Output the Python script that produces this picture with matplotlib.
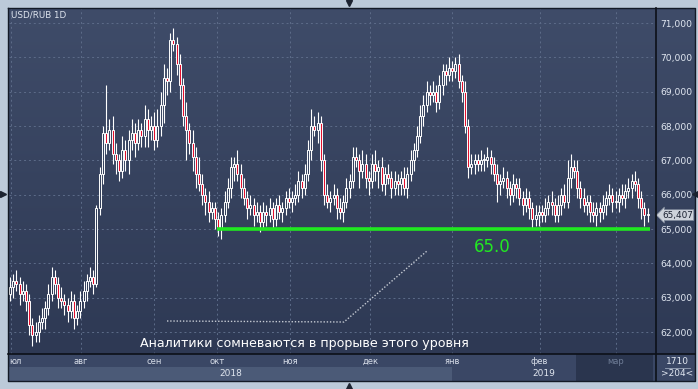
import numpy as np
import matplotlib.pyplot as plt
from matplotlib.colors import LinearSegmentedColormap
from matplotlib.patches import Rectangle
from matplotlib.transforms import blended_transform_factory

# daily closes, USD/RUB, early July 2018 .. mid March 2019 (trading-day index)
open0 = 63.1
close = [
    63.3, 63.5, 63.4, 63.1, 63.2, 62.9, 62.2,
    61.9, 62.0, 62.3, 62.4, 62.7, 63.1,
    63.6, 63.4, 63.0, 62.9, 62.8, 62.6,
    62.9, 62.4, 62.6, 62.9,
    63.2, 63.5, 63.6, 63.4, 65.6,
    66.6, 67.8, 67.5, 67.9, 67.2, 67.0, 66.7, 67.3, 67.0, 67.6,
    67.8, 67.5, 67.9, 67.7, 68.2, 67.9, 68.0, 67.6, 68.0, 68.6,
    69.4, 69.3, 70.5, 70.4, 69.8, 69.2, 68.3, 67.9, 67.5, 67.1,
    66.6, 66.3, 66.0, 65.8, 65.5, 65.6, 65.3, 65.0, 65.4, 65.8,
    66.2, 66.8, 66.9, 66.6, 66.2, 65.9, 65.6, 65.7, 65.4, 65.5,
    65.2, 65.5, 65.4, 65.6, 65.3, 65.7, 65.5, 65.6, 65.9, 65.8,
    65.9, 66.0, 66.4, 66.2, 66.6, 67.3, 68.0, 67.9, 68.1, 67.0,
    66.0, 65.8, 65.9, 66.0, 65.6, 65.5, 65.8, 66.2, 66.4, 67.1,
    67.0, 66.7, 66.9, 66.5, 66.4, 66.9, 66.7, 66.8, 66.3, 66.6,
    66.5, 66.2, 66.4, 66.3, 66.5, 66.2, 66.6, 67.0, 67.3, 67.7,
    68.3, 68.6, 69.0, 68.9, 69.0, 68.7, 69.2, 69.6, 69.5, 69.7,
    69.6, 69.8, 69.3, 69.0, 68.0, 66.8, 66.9, 67.0, 66.9, 67.0,
    67.0, 67.1, 66.9, 66.6, 66.3, 66.4, 66.5, 66.2, 66.0, 66.3,
    66.2, 65.9, 65.7, 65.9, 65.6, 65.3, 65.4, 65.5, 65.4, 65.6,
    65.8, 65.7, 65.4, 65.7, 66.0, 65.8, 66.5, 66.8, 66.7, 66.2,
    65.9, 65.7, 65.8, 65.5, 65.4, 65.6, 65.5, 65.7, 65.9, 66.0,
    65.8, 65.8, 66.0, 65.9, 66.1, 66.2, 66.4, 66.3, 65.9, 65.6,
    65.4, 65.4,
]
# wick lengths above / below the body
up_wick = [
    0.3, 0.2, 0.3, 0.2, 0.3, 0.2, 0.2,
    0.2, 0.3, 0.2, 0.3, 0.2, 0.3,
    0.3, 0.2, 0.2, 0.3, 0.2, 0.2,
    0.3, 0.2, 0.2, 0.3,
    0.3, 0.2, 0.3, 0.2, 0.1,
    0.2, 0.2, 1.4, 0.3, 0.4, 0.3, 0.2, 0.4, 0.3, 0.3,
    0.4, 0.3, 0.3, 0.2, 0.4, 0.3, 0.3, 0.4, 0.5, 0.4,
    0.4, 0.3, 0.2, 0.35, 0.2, 0.3, 0.2, 0.4, 0.2, 0.4,
    0.3, 0.5, 0.3, 0.2, 0.3, 0.2, 0.2, 0.2, 0.2, 0.3,
    0.3, 0.3, 0.2, 0.4, 0.3, 0.3, 0.2, 0.3, 0.2, 0.3,
    0.2, 0.3, 0.2, 0.3, 0.2, 0.2, 0.3, 0.2, 0.2, 0.3,
    0.2, 0.3, 0.3, 0.2, 0.3, 0.3, 0.5, 0.3, 0.3, 0.2,
    0.2, 0.3, 0.2, 0.3, 0.2, 0.3, 0.2, 0.3, 0.2, 0.3,
    0.3, 0.2, 0.4, 0.3, 0.2, 0.3, 0.4, 0.2, 0.3, 0.2,
    0.3, 0.2, 0.3, 0.2, 0.2, 0.3, 0.2, 0.3, 0.2, 0.3,
    0.3, 0.3, 0.3, 0.2, 0.3, 0.2, 0.3, 0.2, 0.2, 0.3,
    0.2, 0.2, 0.3, 0.2, 0.3, 0.2, 0.3, 0.2, 0.2, 0.3,
    0.2, 0.3, 0.2, 0.2, 0.3, 0.2, 0.3, 0.2, 0.2, 0.3,
    0.2, 0.3, 0.2, 0.3, 0.2, 0.2, 0.3, 0.2, 0.2, 0.3,
    0.2, 0.3, 0.2, 0.3, 0.2, 0.3, 0.5, 0.4, 0.2, 0.3,
    0.2, 0.3, 0.2, 0.2, 0.3, 0.2, 0.2, 0.3, 0.2, 0.3,
    0.2, 0.3, 0.2, 0.3, 0.2, 0.3, 0.2, 0.3, 0.2, 0.2,
    0.2, 0.2,
]
dn_wick = [
    0.2, 0.3, 0.2, 0.3, 0.2, 0.3, 0.3,
    0.3, 0.2, 0.3, 0.2, 0.3, 0.2,
    0.2, 0.3, 0.3, 0.2, 0.3, 0.3,
    0.2, 0.3, 0.2, 0.2,
    0.2, 0.3, 0.2, 0.3, 0.1,
    0.2, 0.3, 0.3, 0.2, 0.3, 0.4, 0.3, 0.2, 0.3, 0.4,
    0.3, 0.4, 0.2, 0.3, 0.3, 0.5, 0.3, 0.3, 0.2, 0.3,
    0.5, 0.4, 0.3, 0.2, 0.3, 0.4, 0.3, 0.9, 0.3, 0.4,
    0.4, 0.2, 0.3, 0.4, 0.3, 0.2, 0.3, 0.2, 0.3, 0.2,
    0.2, 0.3, 0.4, 0.2, 0.3, 0.2, 0.3, 0.2, 0.3, 0.2,
    0.3, 0.2, 0.3, 0.2, 0.3, 0.2, 0.2, 0.3, 0.2, 0.2,
    0.3, 0.2, 0.2, 0.3, 0.2, 0.2, 0.3, 0.2, 0.4, 0.3,
    0.3, 0.2, 0.3, 0.2, 0.3, 0.2, 0.3, 0.2, 0.3, 0.2,
    0.2, 0.5, 0.2, 0.3, 0.4, 0.2, 0.3, 0.5, 0.2, 0.3,
    0.2, 0.3, 0.2, 0.3, 0.3, 0.2, 0.3, 0.2, 0.3, 0.2,
    0.2, 0.3, 0.2, 0.3, 0.2, 0.3, 0.2, 0.3, 0.3, 0.2,
    0.3, 0.2, 0.2, 0.3, 0.2, 0.3, 0.2, 0.3, 0.2, 0.2,
    0.3, 0.2, 0.3, 0.2, 0.5, 0.3, 0.2, 0.3, 0.3, 0.2,
    0.3, 0.2, 0.3, 0.2, 0.3, 0.3, 0.2, 0.3, 0.2, 0.2,
    0.2, 0.3, 0.2, 0.2, 0.3, 0.2, 0.2, 0.3, 0.2, 0.3,
    0.3, 0.2, 0.3, 0.3, 0.2, 0.3, 0.3, 0.2, 0.3, 0.2,
    0.3, 0.2, 0.3, 0.2, 0.3, 0.2, 0.3, 0.2, 0.3, 0.3,
    0.3, 0.2,
]

y_ticks = [62, 63, 64, 65, 66, 67, 68, 69, 70, 71]
month_pos = [0.3, 22.2, 45.0, 64.7, 87.5, 112.5, 138.0, 165.3, 189.0]
month_names = ["юл", "авг", "сен", "окт", "ноя", "дек", "янв", "фев", "мар"]
year_pos = [69.0, 166.5]
year_names = ["2018", "2019"]
level = 65.0
last_price = 65.407

W, H = 698, 389


def box(x0, y0, x1, y1):
    """Figure rectangle from pixel edges (origin top-left)."""
    return [x0 / W, 1 - y1 / H, (x1 - x0) / W, (y1 - y0) / H]


fig = plt.figure(figsize=(W / 100, H / 100), dpi=100)
fig.patch.set_facecolor("#bccad9")

# gradient backdrop for plot + price scale
bg = fig.add_axes(box(9, 8, 695, 354))
bg.axis("off")
cmap = LinearSegmentedColormap.from_list("bg", ["#3f4c69", "#2e3954"])
bg.imshow(np.linspace(0, 1, 256).reshape(-1, 1), aspect="auto", cmap=cmap,
          extent=[0, 1, 0, 1])

ax = fig.add_axes(box(9, 8, 656, 354))
ax.patch.set_visible(False)
for s in ax.spines.values():
    s.set_visible(False)
ax.set_xlim(-0.3, 201.6)
ax.set_ylim(61.36, 71.44)

c = np.array(close)
o = np.r_[open0, c[:-1]]
x = np.arange(len(c))
top = np.maximum(o, c)
bot = np.minimum(o, c)
ax.vlines(x, top, top + np.array(up_wick), color="white", lw=0.8)
ax.vlines(x, bot - np.array(dn_wick), bot, color="white", lw=0.8)
face = ["#e3102e" if cc < oo else "none" for oo, cc in zip(o, c)]
ax.bar(x, np.maximum(top - bot, 0.03), bottom=bot, width=0.62, color=face,
       edgecolor="white", linewidth=0.7)

ax.hlines(level, 64.7, 199.7, color="#20e820", lw=2.6, zorder=4)
ax.text(150.6, 64.47, f"{level:.1f}", color="#22e822", fontsize=12,
        ha="center", va="center")

ax.set_yticks(y_ticks)
ax.set_yticklabels([f"{v},000" for v in y_ticks])
ax.yaxis.tick_right()
ax.tick_params(axis="y", length=0, pad=3, labelsize=6.6, labelcolor="#e2e8f2")
ax.set_xticks(month_pos)
ax.tick_params(axis="x", length=0, labelbottom=False)
ax.grid(True, color="#5d6c89", ls=(0, (2, 3)), lw=0.7)
ax.set_axisbelow(True)

tr = blended_transform_factory(ax.transAxes, ax.transData)
ax.text(1.0 + 6 / 647, last_price, f"{last_price:.3f}".replace(".", ","),
        transform=tr, fontsize=6.4, color="#1a2030", va="center", ha="left",
        bbox=dict(boxstyle="larrow,pad=0.1", fc="#cdd2da", ec="#7e889a", lw=0.5))

# date band
bax = fig.add_axes(box(9, 354, 656, 381))
bax.set_xlim(ax.get_xlim())
bax.set_ylim(0, 27)
bax.set_facecolor("#3a4765")
bax.set_xticks([])
bax.set_yticks([])
for s in bax.spines.values():
    s.set_visible(False)
bax.add_patch(Rectangle((-0.3, 0), 138.3, 14, color="#4b5a77", lw=0))
bax.add_patch(Rectangle((176.6, 0), 24.0, 27, color="#2a354e", lw=0))
for p, m in zip(month_pos, month_names):
    if m == "юл":
        bax.text(-0.3, 19.5, m, ha="left", va="center", fontsize=6, color="#d8dee9")
    else:
        col = "#6f7d97" if m == "мар" else "#d8dee9"
        bax.text(p, 19.5, m, ha="center", va="center", fontsize=6, color=col)
for p, yname in zip(year_pos, year_names):
    bax.text(p, 7, yname, ha="center", va="center", fontsize=6.5, color="#dfe5ee")

cax = fig.add_axes(box(656, 354, 695, 381))
cax.set_facecolor("#3a4765")
cax.set_xticks([])
cax.set_yticks([])
for s in cax.spines.values():
    s.set_visible(False)
cax.text(0.55, 0.74, "1710", ha="center", va="center", fontsize=6.5, color="#e2e8f2")
cax.plot([0.22, 0.88], [0.5, 0.5], color="#9aa6ba", lw=0.6)
cax.text(0.55, 0.26, ">204<", ha="center", va="center", fontsize=6.5, color="#e2e8f2")
cax.set_xlim(0, 1)
cax.set_ylim(0, 1)

# overlay in pixel units: frame lines, notes
ov = fig.add_axes([0, 0, 1, 1])
ov.set_xlim(0, W)
ov.set_ylim(H, 0)
ov.axis("off")
ov.plot([8, 695, 695, 8, 8], [7.5, 7.5, 381, 381, 7.5], color="#131a26", lw=1.0)
ov.plot([656, 656], [7.5, 381], color="#0c1018", lw=1.2)
ov.plot([8, 695], [354, 354], color="#0c1018", lw=1.2)
ov.plot([167, 344, 427], [321, 322, 251], color="#c5cad3", lw=1.0, ls=(0, (1, 1.3)))
ov.text(304, 343, "Аналитики сомневаются в прорыве этого уровня", ha="center",
        va="center", fontsize=9.1, color="white")
ov.text(11, 15, "USD/RUB 1D", ha="left", va="center", fontsize=6.3, color="#dfe5ef")
ov.plot([349], [3], marker="v", color="#1c2330", ms=5)
ov.plot([349], [386], marker="^", color="#1c2330", ms=5)
ov.plot([3], [194], marker=">", color="#1c2330", ms=5)
ov.plot([695], [194], marker="<", color="#1c2330", ms=5)

fig.savefig("out.png", dpi=100, facecolor=fig.get_facecolor())
